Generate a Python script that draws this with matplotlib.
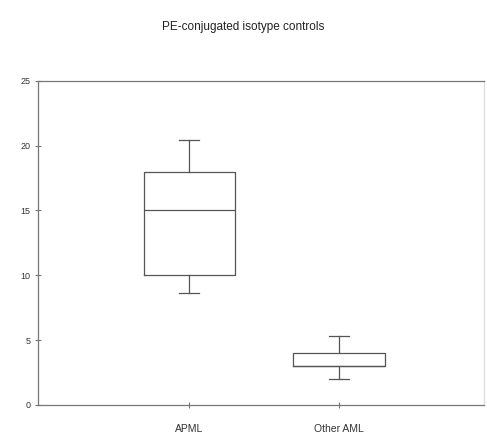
import matplotlib
matplotlib.use("Agg")
import matplotlib.pyplot as plt

plt.rcParams['font.family'] = ['Liberation Sans', 'DejaVu Sans']

# box statistics
groups = ["APML", "Other AML"]
whislo = [8.6, 2.0]
q1 = [10.0, 3.0]
med = [15.0, 3.0]
q3 = [18.0, 4.0]
whishi = [20.4, 5.3]

stats = []
for i, g in enumerate(groups):
    stats.append(dict(label=g, whislo=whislo[i], q1=q1[i], med=med[i],
                      q3=q3[i], whishi=whishi[i], fliers=[]))

fig = plt.figure(figsize=(4.87, 4.44), dpi=100)
ax = fig.add_axes([0.078, 0.088, 0.916, 0.730])

lc = '#555555'
ax.bxp(stats, positions=[1, 2], widths=0.61, showfliers=False,
       boxprops=dict(color=lc, lw=0.9),
       medianprops=dict(color=lc, lw=0.9),
       whiskerprops=dict(color=lc, lw=0.9),
       capprops=dict(color=lc, lw=0.9), capwidths=0.13)

ax.set_xlim(-0.01, 2.97)
ax.set_ylim(0, 25)
ax.set_yticks([0, 5, 10, 15, 20, 25])
for s in ax.spines.values():
    s.set_color('#777777')
    s.set_linewidth(0.9)
ax.spines['right'].set_color('#dddddd')
ax.tick_params(axis='both', direction='inout', length=4, width=0.8,
               colors='#777777', labelcolor='#333333', labelsize=6.5)
ax.tick_params(axis='x', labelsize=7.5, pad=12)

fig.text(0.5, 0.94, "PE-conjugated isotype controls", ha='center', va='center',
         fontsize=8.5, color='#222222')

fig.savefig("out.png", dpi=100)
